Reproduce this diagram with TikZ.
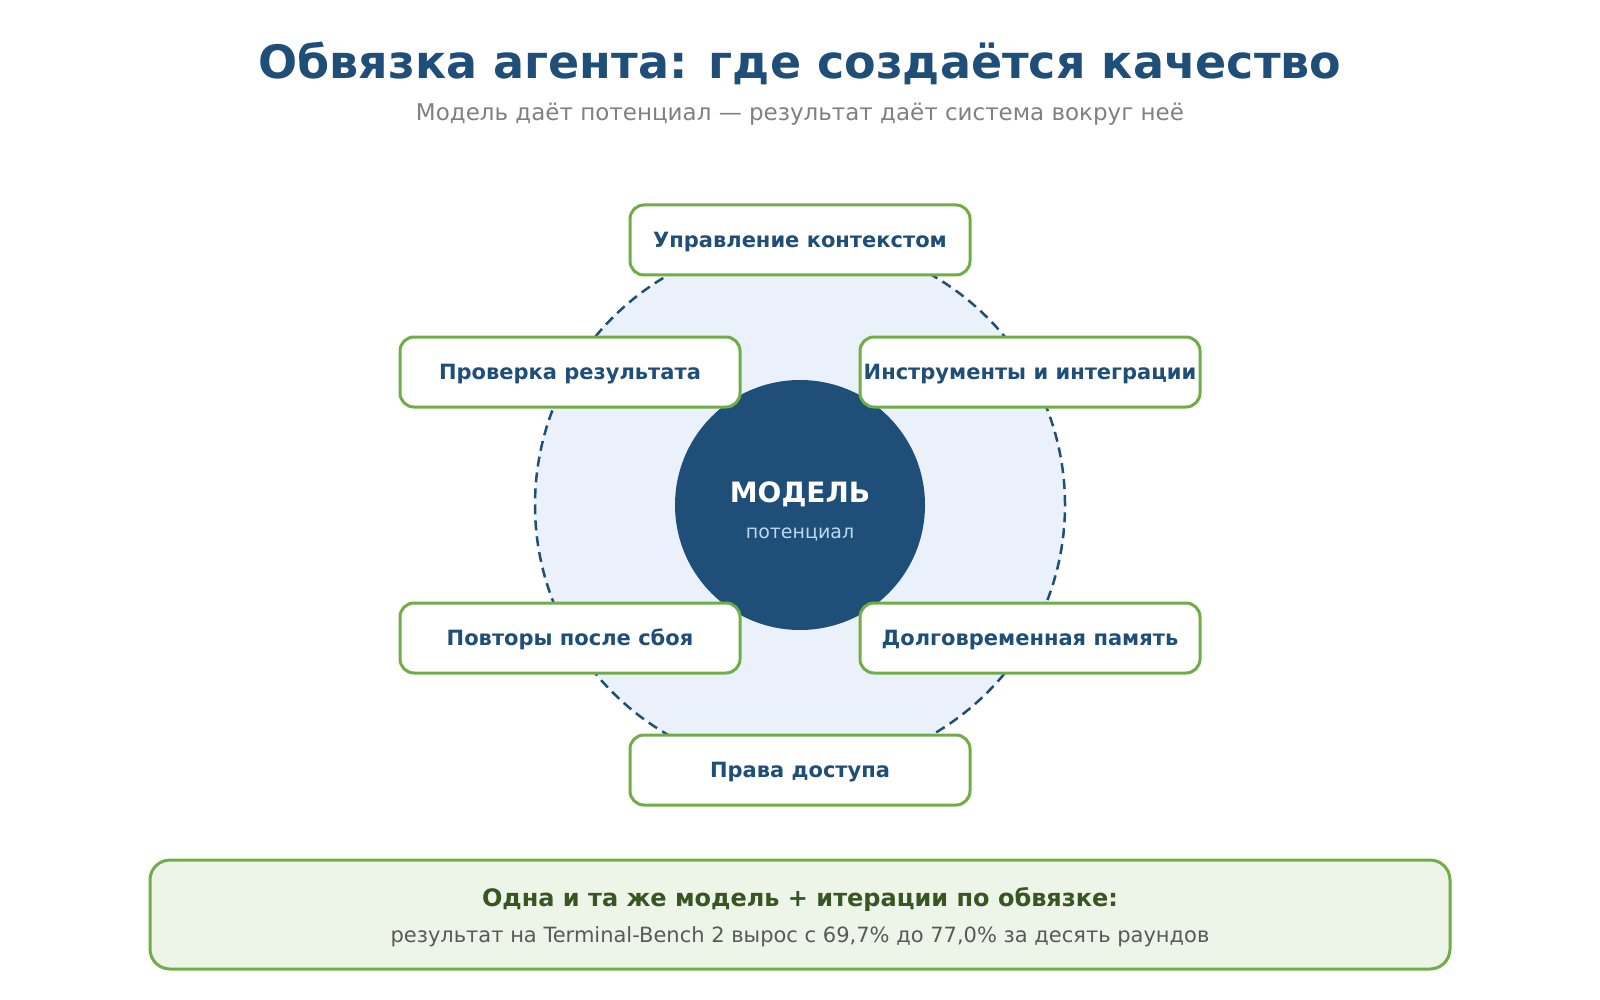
\documentclass[tikz,border=0pt]{standalone}
\usepackage{fontspec}
\setmainfont{DejaVu Sans}
\usepackage{tikz}
\usetikzlibrary{positioning}
\definecolor{navy}{HTML}{1F4E79}
\definecolor{leaf}{HTML}{70AD47}
\definecolor{darkleaf}{HTML}{375623}
\definecolor{paleblue}{HTML}{EAF1FB}
\definecolor{palegreen}{HTML}{EDF5E8}
\definecolor{softblue}{HTML}{BDD7EE}
\definecolor{notegray}{HTML}{595959}
\newcommand{\fsz}[1]{\fontsize{#1}{#1}\selectfont}
\tikzset{
  partbox/.style={draw=leaf, line width=3pt, fill=white, rounded corners=14pt,
    minimum width=340pt, minimum height=70pt, inner sep=0pt,
    text height=15pt, text depth=0pt,
    text=navy, font=\fsz{21}\bfseries}
}

\begin{document}
\begin{tikzpicture}[x=1pt,y=-1pt]
\useasboundingbox (0,0) rectangle (1600,1000);

\path (800,63) node[text=navy, font=\fsz{46}\bfseries] (title) {Обвязка агента: где создаётся качество};
\path (800,114) node[text=gray, font=\fsz{23}] (subtitle) {Модель даёт потенциал — результат даёт система вокруг неё};

% outer ring and the model
\path (800,505) node[circle, minimum size=530pt, fill=paleblue, draw=navy, line width=2.5pt,
  dash pattern=on 10pt off 6pt] (ring) {};
\path (800,505) node[circle, minimum size=250pt, fill=navy] (model) {};
\path (800,494) node[text=white, font=\fsz{28}\bfseries] (m1) {МОДЕЛЬ};
\path (800,534) node[text=softblue, font=\fsz{19}] (m2) {потенциал};

% parts of the harness
\path (800,240) node[partbox] (b1) {Управление контекстом};
\path (1030,372) node[partbox] (b2) {Инструменты и интеграции};
\path (1030,638) node[partbox] (b3) {Долговременная память};
\path (800,770) node[partbox] (b4) {Права доступа};
\path (570,638) node[partbox] (b5) {Повторы после сбоя};
\path (570,372) node[partbox] (b6) {Проверка результата};

% bottom note
\path (800,914.5) node[draw=leaf, line width=3pt, fill=palegreen, rounded corners=20pt,
  minimum width=1300pt, minimum height=109pt] (note) {};
\path (800,899) node[text=darkleaf, font=\fsz{24}\bfseries] (n1) {Одна и та же модель + итерации по обвязке:};
\path (800,937) node[text=notegray, font=\fsz{21}] (n2) {результат на Terminal-Bench 2 вырос с 69,7\% до 77,0\% за десять раундов};

\end{tikzpicture}
\end{document}
